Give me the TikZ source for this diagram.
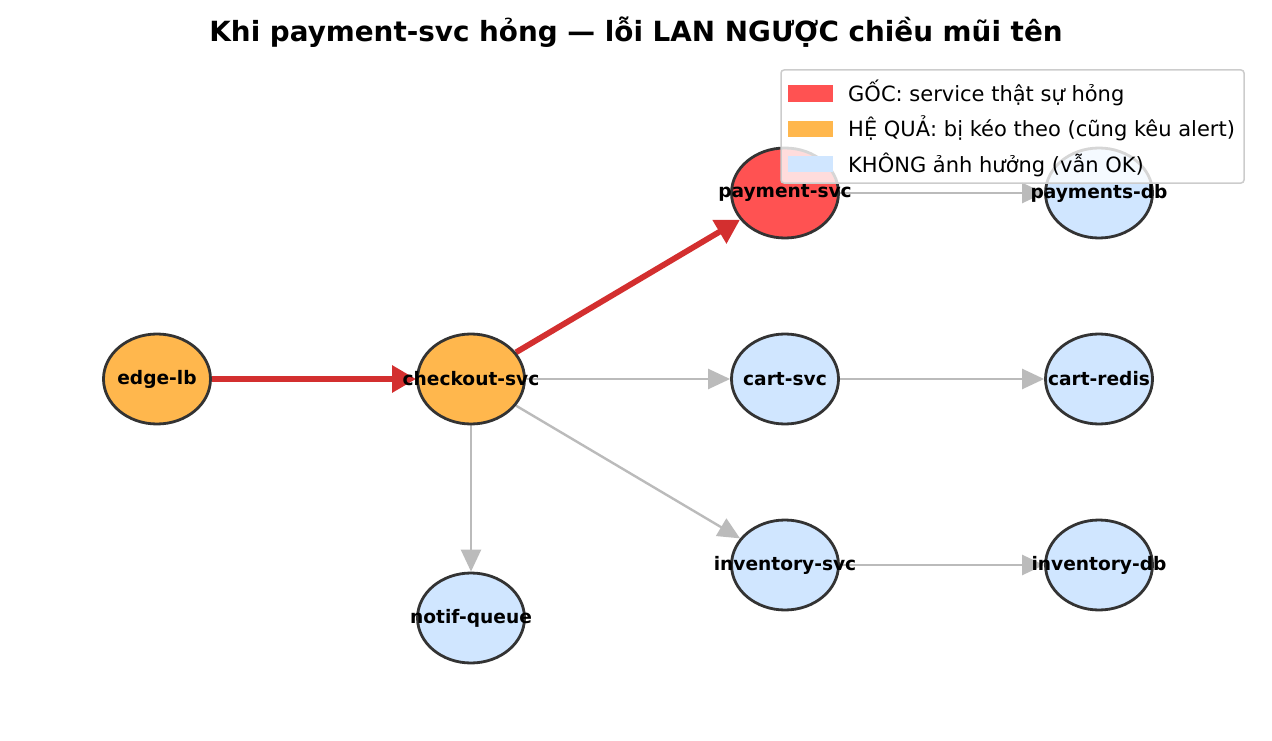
\documentclass[tikz,border=0pt]{standalone}
\usepackage{fontspec}
\setmainfont{DejaVu Sans}
\usepackage{xcolor}
\usetikzlibrary{shapes.geometric,arrows.meta,backgrounds}
\definecolor{rootred}{HTML}{FF5252}
\definecolor{hitorange}{HTML}{FFB74D}
\definecolor{okblue}{HTML}{D0E6FF}
\definecolor{edgered}{HTML}{D32F2F}
\definecolor{edgegray}{HTML}{BBBBBB}
\definecolor{rim}{HTML}{333333}

\begin{document}
\begin{tikzpicture}[x=1pt, y=-1pt,
  svc/.style={ellipse, draw=rim, line width=2.8pt, minimum width=107pt,
              minimum height=90pt, inner sep=0pt},
  lbl/.style={font=\fontsize{18.6}{20}\selectfont\bfseries, inner sep=0pt},
  hot/.style={-{Triangle[length=24pt, width=26pt]}, edgered, line width=5.8pt},
  cold/.style={-{Triangle[length=22pt, width=20pt]}, edgegray, line width=2.4pt},
  legtxt/.style={anchor=base west, inner sep=0pt, font=\fontsize{21}{24}\selectfont}
]
\useasboundingbox (0,0) rectangle (1272,741);

\node[font=\fontsize{27.8}{30}\selectfont\bfseries, anchor=base] (title) at (636,42)
  {Khi payment-svc hỏng — lỗi LAN NGƯỢC chiều mũi tên};

\node[svc, fill=hitorange, label={[lbl]center:edge-lb}] (edge) at (157,379) {};
\node[svc, fill=hitorange, label={[lbl]center:checkout-svc}] (checkout) at (471,379) {};
\node[svc, fill=rootred, label={[lbl]center:payment-svc}] (payment) at (785,193) {};
\node[svc, fill=okblue, label={[lbl]center:payments-db}] (paydb) at (1099,193) {};
\node[svc, fill=okblue, label={[lbl]center:cart-svc}] (cart) at (785,379) {};
\node[svc, fill=okblue, label={[lbl]center:cart-redis}] (redis) at (1099,379) {};
\node[svc, fill=okblue, label={[lbl]center:inventory-svc}] (inventory) at (785,565) {};
\node[svc, fill=okblue, label={[lbl]center:inventory-db}] (invdb) at (1099,565) {};
\node[svc, fill=okblue, label={[lbl]center:notif-queue}] (notif) at (471,618) {};

\begin{scope}[on background layer]
\draw[hot] (edge) -- (checkout);
\draw[hot] (checkout) -- (payment);
\draw[cold] (checkout) -- (cart);
\draw[cold] (checkout) -- (inventory);
\draw[cold] (checkout) -- (notif);
\draw[cold] (payment) -- (paydb);
\draw[cold] (cart) -- (redis);
\draw[cold] (inventory) -- (invdb);
\end{scope}

\draw[draw=black!20, line width=1.5pt, fill=white, fill opacity=0.8, rounded corners=3pt]
  (781,70) rectangle (1244,183);
\fill[rootred] (788,85) rectangle (833,102);
\fill[hitorange] (788,121) rectangle (833,137);
\fill[okblue] (788,156) rectangle (833,172);
\node[legtxt] (leg1) at (848,102) {GỐC: service thật sự hỏng};
\node[legtxt] (leg2) at (848,137) {HỆ QUẢ: bị kéo theo (cũng kêu alert)};
\node[legtxt] (leg3) at (848,172) {KHÔNG ảnh hưởng (vẫn OK)};
\end{tikzpicture}
\end{document}
